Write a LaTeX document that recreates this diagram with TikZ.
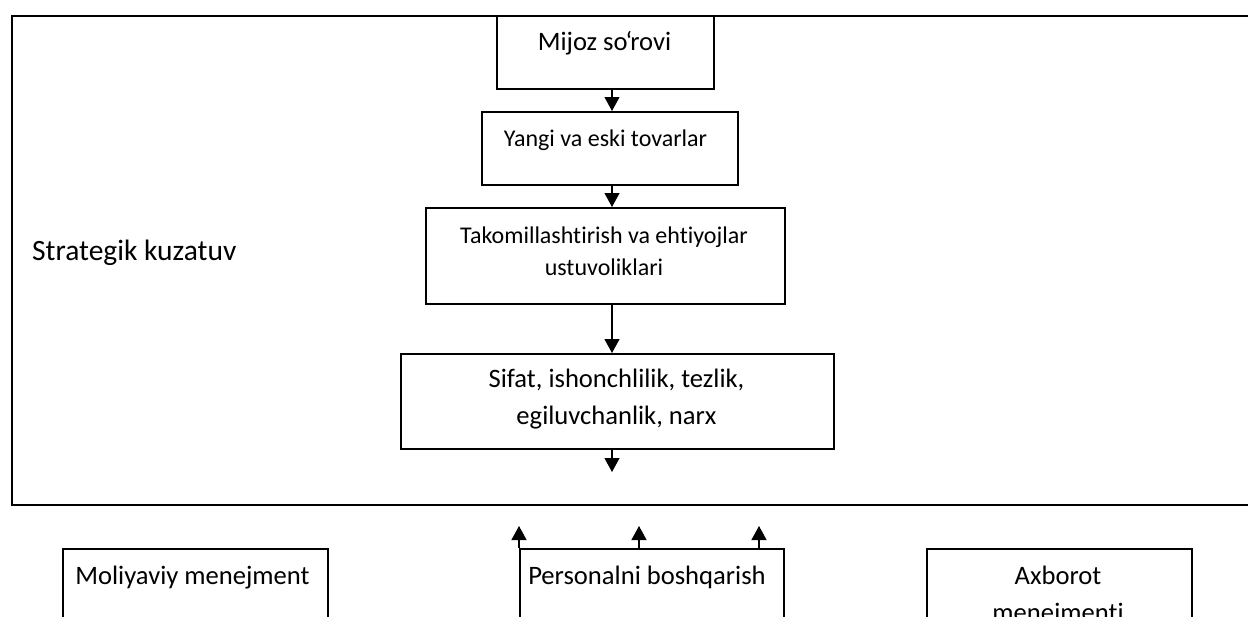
\documentclass[tikz,border=0pt]{standalone}
\usepackage{fontspec}
\setmainfont{Carlito}[Ligatures={NoCommon}]
\usetikzlibrary{arrows.meta}

\begin{document}
\begin{tikzpicture}[x=1pt,y=-1pt,
  box/.style={draw=black, line width=2pt, fill=white, inner sep=0pt,
              anchor=north west, rectangle},
  big/.style={anchor=base, inner sep=0pt, font=\fontsize{26.6}{32}\selectfont},
  small/.style={anchor=base, inner sep=0pt, font=\fontsize{24}{29}\selectfont},
  arr/.style={line width=1.2pt, -{Triangle[width=15pt,length=14pt]}}
]
\path[use as bounding box, clip] (0,0) rectangle (1248,616);

% outer frame of the strategic tracking block
\node[box, minimum width=1251pt, minimum height=489pt] (frame) at (11,15) {};
\node[big, anchor=base west, font=\fontsize{29.5}{35}\selectfont] (strat) at (32,260) {Strategik kuzatuv};

% central chain
\node[box, minimum width=217pt, minimum height=73pt] (b1) at (496,15) {};
\node[box, minimum width=256pt, minimum height=73pt] (b2) at (481,111) {};
\node[box, minimum width=359pt, minimum height=96pt] (b3) at (425,207) {};
\node[box, minimum width=433pt, minimum height=95pt] (b4) at (400,353) {};

\node[big]   (t1)  at (604.5,50)  {Mijoz so\kern-2pt‘\kern-2pt rovi};
\node[small] (t2)  at (605.5,146) {Yangi va eski tovarlar};
\node[small] (t3a) at (604,243)   {Takomillashtirish va ehtiyojlar};
\node[small] (t3b) at (604,275)   {ustuvoliklari};
\node[big]   (t4a) at (616.5,387) {Sifat, ishonchlilik, tezlik,};
\node[big]   (t4b) at (616.5,424) {egiluvchanlik, narx};

% lower function boxes
\node[box, minimum width=265pt, minimum height=120pt] (m1) at (62,548) {};
\node[box, minimum width=264pt, minimum height=120pt] (m2) at (519,548) {};
\node[box, minimum width=265pt, minimum height=120pt] (m3) at (926,548) {};

\node[big] (n1)  at (192.5,584) {Moliyaviy menejment};
\node[big] (n2)  at (647,584)   {Personalni boshqarish};
\node[big] (n3a) at (1058,584)  {Axborot};
\node[big] (n3b) at (1058,621)  {menejmenti};

% connectors
\coordinate (axis) at (612,0);
\coordinate (d4) at (612,472);
\coordinate (u1) at (519,526);
\coordinate (u2) at (639,526);
\coordinate (u3) at (759,526);

\draw[arr] (b1.south -| axis) -- (b2.north -| axis);
\draw[arr] (b2.south -| axis) -- (b3.north -| axis);
\draw[arr] (b3.south -| axis) -- (b4.north -| axis);
\draw[arr] (b4.south -| axis) -- (d4);
\draw[arr] (m2.north -| u1) -- (u1);
\draw[arr] (m2.north -| u2) -- (u2);
\draw[arr] (m2.north -| u3) -- (u3);
\end{tikzpicture}
\end{document}
